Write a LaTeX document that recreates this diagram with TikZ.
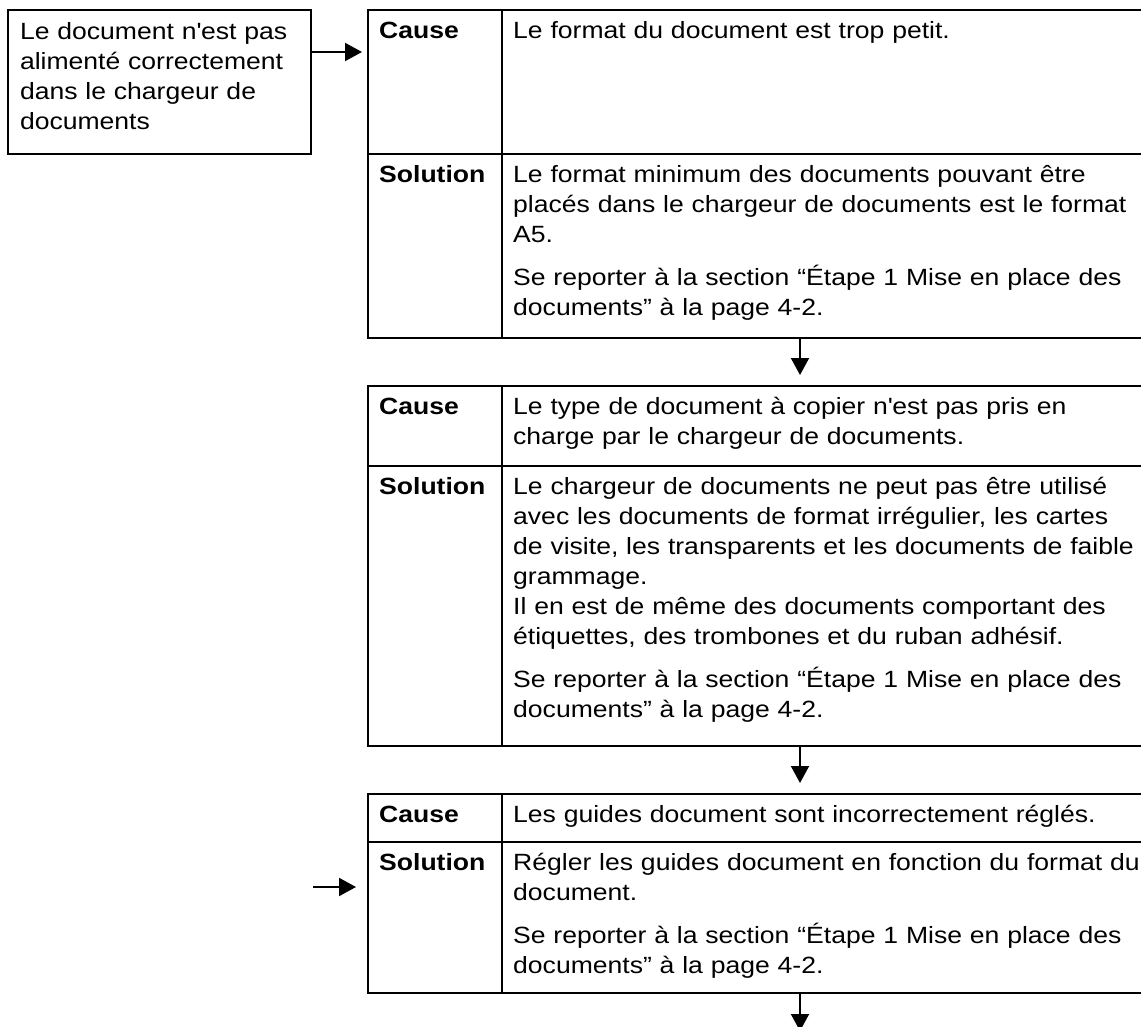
\documentclass[tikz,border=0pt]{standalone}
\usepackage{fontspec}
\setmainfont{Liberation Sans}[FakeStretch=1.13]
\usetikzlibrary{arrows.meta, positioning, calc}
\newcommand{\cellfont}{\fontsize{23.5pt}{30pt}\selectfont}
\tikzset{
  probbox/.style={draw, line width=2pt, anchor=north west, inner xsep=12pt,
    inner ysep=0pt, outer sep=0pt, text width=279pt, align=left, font=\cellfont},
  tbl/.style={draw, line width=2pt, anchor=north west, inner sep=0pt,
    outer sep=0pt, minimum width=782pt},
  rule/.style={line width=2pt},
  hd/.style={anchor=base west, inner sep=0pt, font=\cellfont\bfseries},
  txt/.style={anchor=base west, inner sep=0pt, text width=660pt, align=left,
    font=\cellfont},
  flow/.style={-{Triangle[length=17pt, width=18pt]}, line width=2pt},
}
\newcommand{\refline}{\makebox[624pt][s]{Se reporter à la section “Étape 1 Mise en place des}\\
  documents” à la page 4-2.}

\begin{document}
\begin{tikzpicture}[x=1pt, y=-1pt]
  \useasboundingbox (0,0) rectangle (1141,1027);
  \clip (0,0) rectangle (1141,1027);

  % problem
  \node[probbox] (lbox) at (8,10) {\rule{0pt}{30pt}Le document n\textquotesingle est pas\\
    alimenté correctement\\ dans le chargeur de\\ documents\rule[-24pt]{0pt}{0pt}};

  % tables
  \node[tbl, minimum height=328pt] (t1) at (368,10) {};
  \node[tbl, minimum height=360pt] (t2) at (368,386) {};
  \node[tbl, minimum height=199pt] (t3) at (368,794) {};
  \foreach \t/\h in {t1/144, t2/80, t3/48} {
    \draw[rule] ($(\t.north west)+(134,0)$) -- ($(\t.south west)+(134,0)$);
    \draw[rule] ($(\t.north west)+(0,\h)$) -- ($(\t.north east)+(0,\h)$);
  }

  \node[hd] (c1) at (379,38.5) {Cause};
  \node[txt] (c1t) at (513,38.5) {Le format du document est trop petit.};
  \node[hd] (s1) at (379,182.5) {Solution};
  \node[txt] (s1t) at (513,182.5) {Le format minimum des documents pouvant être\\
    placés dans le chargeur de documents est le format\\ A5.\\[13pt] \refline};

  \node[hd] (c2) at (379,414.5) {Cause};
  \node[txt] (c2t) at (513,414.5) {Le type de document à copier n\textquotesingle est pas pris en\\
    charge par le chargeur de documents.};
  \node[hd] (s2) at (379,494.5) {Solution};
  \node[txt] (s2t) at (513,494.5) {Le chargeur de documents ne peut pas être utilisé\\
    avec les documents de format irrégulier, les cartes\\
    de visite, les transparents et les documents de faible\\ grammage.\\
    Il en est de même des documents comportant des\\
    étiquettes, des trombones et du ruban adhésif.\\[13pt] \refline};

  \node[hd] (c3) at (379,822.5) {Cause};
  \node[txt] (c3t) at (513,822.5) {Les guides document sont incorrectement réglés.};
  \node[hd] (s3) at (379,870.5) {Solution};
  \node[txt] (s3t) at (513,870.5) {Régler les guides document en fonction du format du\\
    document.\\[13pt] \refline};

  % connectors
  \coordinate (inlet) at (313,887);
  \coordinate (nxt) at (800,1031);
  \draw[flow, shorten >=6pt] ($(lbox.north east)+(0,42)$) -- ($(t1.north west)+(0,42)$);
  \draw[flow] ($(t1.south west)+(432,0)$) -- ($(t2.north west)+(432,-11)$);
  \draw[flow] ($(t2.south west)+(432,0)$) -- ($(t3.north west)+(432,-11)$);
  \draw[flow, shorten >=12pt] (inlet) -- (inlet -| t3.west);
  \draw[flow] ($(t3.south west)+(432,0)$) -- (nxt);
\end{tikzpicture}
\end{document}
